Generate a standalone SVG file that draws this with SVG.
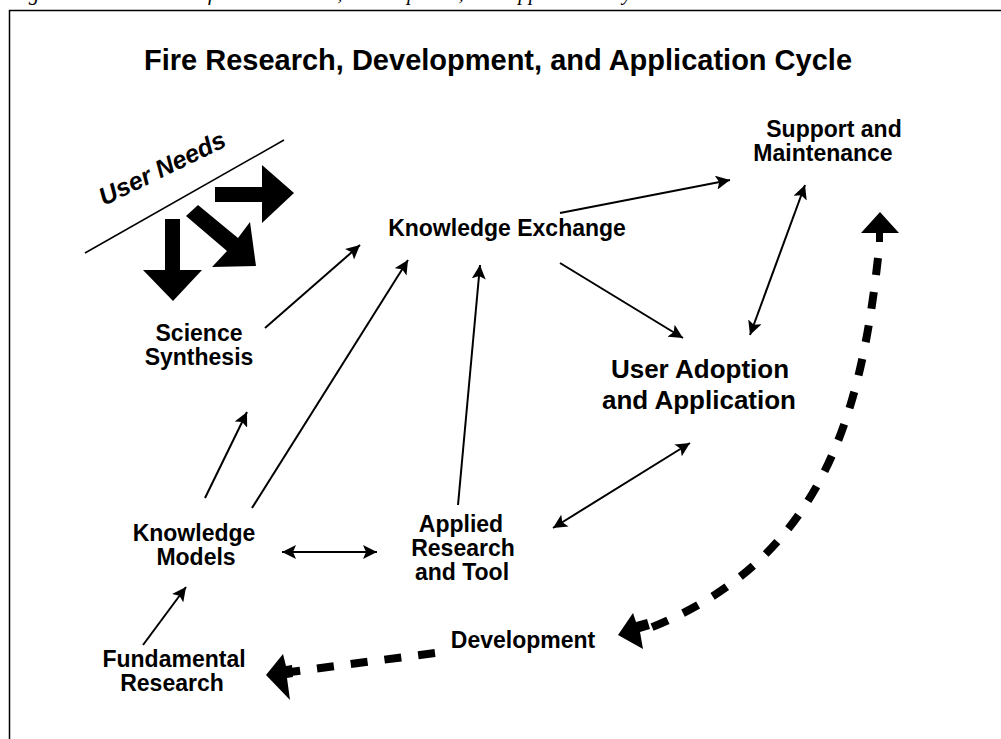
<svg xmlns="http://www.w3.org/2000/svg" width="1001" height="739" viewBox="0 0 1001 739">
  <style>
    .caption { font-family: "Liberation Serif", serif; font-style: italic; font-size: 21px; fill: #000; }
    .title { font-family: "Liberation Sans", Arial, sans-serif; font-weight: bold; font-size: 29px; fill: #000; }
    .lbl { font-family: "Liberation Sans", Arial, sans-serif; font-weight: bold; font-size: 23px; fill: #000; text-anchor: middle; }
    .lbl-lg { font-family: "Liberation Sans", Arial, sans-serif; font-weight: bold; font-size: 26px; fill: #000; text-anchor: middle; }
    .needs { font-family: "Liberation Sans", Arial, sans-serif; font-weight: bold; font-style: italic; font-size: 25px; fill: #000; }
    .thin { stroke: #000; stroke-width: 2; fill: none; }
    .dash { stroke: #000; stroke-width: 8; fill: none; stroke-dasharray: 17 17; }
    .solid { fill: #000; stroke: none; }
  </style>
  <defs>
    <marker id="ah" markerUnits="userSpaceOnUse" markerWidth="16" markerHeight="14" refX="14" refY="7" orient="auto-start-reverse">
      <path d="M0,0 L14,7 L0,14 L3,7 z" fill="#000"/>
    </marker>
  </defs>

  <rect width="1001" height="739" fill="#fff"/>

  <!-- caption line above the frame -->
  <text class="caption" x="10" y="0">Figure 1.—Schematic of Fire Research, Development, and Application Cycle</text>

  <!-- frame -->
  <path d="M9.5,739 V10.5 H1001" fill="none" stroke="#000" stroke-width="1.5"/>

  <text class="title" x="498" y="70" text-anchor="middle">Fire Research, Development, and Application Cycle</text>

  <!-- user needs -->
  <g id="user-needs">
    <line x1="85" y1="253" x2="284" y2="140" stroke="#000" stroke-width="1.5"/>
    <text class="needs" x="104" y="206" transform="rotate(-26 104 206)">User Needs</text>
    <polygon class="solid" points="215,187 262,187 262,165 294,193 262,223 262,202 215,202"/>
    <polygon class="solid" points="165,219 180,219 180,270 202,270 173,301 143,270 165,270"/>
    <polygon class="solid" points="186,216 198,205 238,238 250,222 256,266 212,267 227,251"/>
  </g>

  <g id="knowledge-exchange">
    <text class="lbl" x="507" y="236">Knowledge Exchange</text>
  </g>
  <g id="support-maintenance">
    <text class="lbl" x="834" y="137">Support and</text>
    <text class="lbl" x="823" y="161">Maintenance</text>
  </g>
  <g id="science-synthesis">
    <text class="lbl" x="199" y="341">Science</text>
    <text class="lbl" x="199" y="365">Synthesis</text>
  </g>
  <g id="user-adoption">
    <text class="lbl-lg" x="700" y="378">User Adoption</text>
    <text class="lbl-lg" x="699" y="409">and Application</text>
  </g>
  <g id="knowledge-models">
    <text class="lbl" x="194" y="541">Knowledge</text>
    <text class="lbl" x="196" y="565">Models</text>
  </g>
  <g id="applied-research">
    <text class="lbl" x="461" y="532">Applied</text>
    <text class="lbl" x="463" y="556">Research</text>
    <text class="lbl" x="462" y="580">and Tool</text>
  </g>
  <g id="development">
    <text class="lbl" x="523" y="648">Development</text>
  </g>
  <g id="fundamental-research">
    <text class="lbl" x="174" y="667">Fundamental</text>
    <text class="lbl" x="172" y="691">Research</text>
  </g>

  <g id="connectors">
    <line class="thin" x1="265" y1="328" x2="360" y2="245" marker-end="url(#ah)"/>
    <line class="thin" x1="252" y1="508" x2="408" y2="260" marker-end="url(#ah)"/>
    <line class="thin" x1="205" y1="498" x2="247" y2="412" marker-end="url(#ah)"/>
    <line class="thin" x1="458" y1="505" x2="480" y2="265" marker-end="url(#ah)"/>
    <line class="thin" x1="560" y1="213" x2="730" y2="180" marker-end="url(#ah)"/>
    <line class="thin" x1="560" y1="263" x2="683" y2="338" marker-end="url(#ah)"/>
    <line class="thin" x1="750" y1="335" x2="805" y2="185" marker-start="url(#ah)" marker-end="url(#ah)"/>
    <line class="thin" x1="553" y1="528" x2="690" y2="443" marker-start="url(#ah)" marker-end="url(#ah)"/>
    <line class="thin" x1="282" y1="552" x2="377" y2="552" marker-start="url(#ah)" marker-end="url(#ah)"/>
    <line class="thin" x1="143" y1="645" x2="186" y2="587" marker-end="url(#ah)"/>

    <!-- development loop, dashed -->
    <path class="dash" d="M435,653 L290,672"/>
    <polygon class="solid" points="266,675 283,654 286,666 292,665 293,677 287,678 290,700"/>
    <path class="dash" d="M878,258 C860,420 820,560 650,628"/>
    <polygon class="solid" points="880,212 899,233 883,233 883,242 876,242 876,233 861,233"/>
    <polygon class="solid" points="618,635 633,613 636,622 647,619 650,629 640,632 643,649"/>
  </g>
</svg>
